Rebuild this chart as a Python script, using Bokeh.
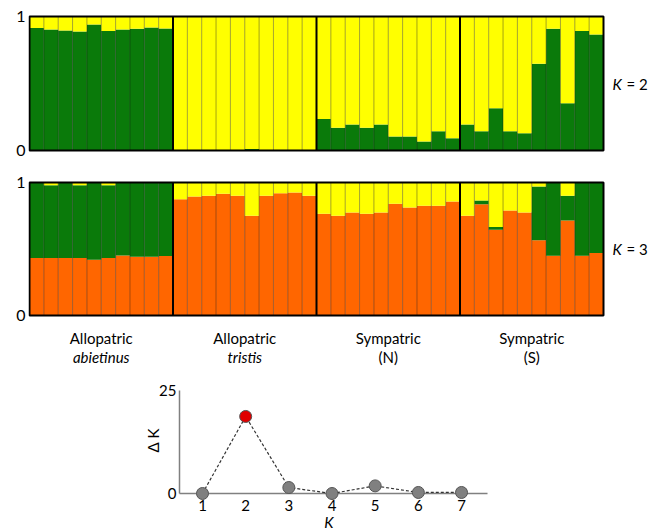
from bokeh.plotting import figure
from bokeh.layouts import column
from bokeh.models import ColumnDataSource, FixedTicker, Range1d
from bokeh.core.properties import value
from bokeh.embed import file_html
from bokeh.resources import INLINE

# ---------------- data ----------------
group_names = ["Allopatric", "Allopatric", "Sympatric", "Sympatric"]
group_subs = ["abietinus", "tristis", "(N)", "(S)"]
group_sub_italic = [True, True, False, False]
n_per_group = 10
ytick_values = [0, 1]

# K = 2 : proportion of the green cluster (yellow is the remainder)
k2_green = [0.915, 0.903, 0.896, 0.888, 0.940, 0.891, 0.903, 0.908, 0.918, 0.910,
            0.0, 0.0, 0.0, 0.0, 0.0, 0.012, 0.0, 0.0, 0.0, 0.0,
            0.236, 0.169, 0.194, 0.169, 0.194, 0.104, 0.104, 0.067, 0.144, 0.092,
            0.194, 0.144, 0.316, 0.144, 0.129, 0.647, 0.908, 0.353, 0.891, 0.866]

# K = 3 : orange and green clusters (yellow is the remainder)
k3_orange = [0.432, 0.432, 0.432, 0.432, 0.420, 0.432, 0.452, 0.442, 0.442, 0.447,
             0.875, 0.895, 0.900, 0.915, 0.900, 0.750, 0.900, 0.920, 0.925, 0.900,
             0.765, 0.750, 0.775, 0.765, 0.775, 0.840, 0.812, 0.825, 0.825, 0.857,
             0.750, 0.837, 0.645, 0.790, 0.775, 0.565, 0.450, 0.715, 0.450, 0.470]
k3_green = [0.568, 0.548, 0.568, 0.548, 0.580, 0.548, 0.548, 0.558, 0.558, 0.553,
            0.0, 0.0, 0.0, 0.0, 0.0, 0.0, 0.0, 0.0, 0.0, 0.0,
            0.0, 0.0, 0.0, 0.0, 0.0, 0.0, 0.0, 0.0, 0.0, 0.0,
            0.0, 0.028, 0.020, 0.0, 0.0, 0.405, 0.550, 0.185, 0.550, 0.530]

k_values = [1, 2, 3, 4, 5, 6, 7]
delta_k = [0.0, 18.7, 1.45, 0.0, 1.85, 0.25, 0.25]
best_k = 2
dk_ticks = [0, 25]

# ---------------- styles / layout constants ----------------
GREEN = "#0a7a0a"
YELLOW = "#ffff00"
ORANGE = "#ff6600"
FONT = value("Lato")
FS = "15px"
W = 660
LEFT = 28            # canvas px left of frame
BAR_PX = 14.35       # px per individual
PAD_L = 1.0 / BAR_PX  # 1 px of data to keep border visible

n_total = len(k2_green)
xs = [i + 0.5 for i in range(n_total)]
k2_yellow = [1 - g for g in k2_green]
k3_yellow = [max(0.0, 1 - o - g) for o, g in zip(k3_orange, k3_green)]

x_end = (W - LEFT) / BAR_PX - PAD_L


def structure_panel(height, above_px, below_px, panel_px, stack_names, colors, data, klabel):
    ppu = panel_px  # px per unit of y
    yr = Range1d(-below_px / ppu, 1 + above_px / ppu)
    p = figure(width=W, height=height, x_range=Range1d(-PAD_L, x_end), y_range=yr,
               output_backend="svg", toolbar_location=None, min_border=0,
               min_border_left=LEFT)
    src = ColumnDataSource(dict(x=xs, **data))
    p.vbar_stack(stack_names, x="x", width=1.0, color=colors, source=src, line_width=0)
    sep_x = [i for i in range(1, n_total) if i % n_per_group != 0]
    p.segment(x0=sep_x, y0=[0] * len(sep_x), x1=sep_x, y1=[1] * len(sep_x),
              line_color="#111111", line_width=1, line_dash="1 1", line_alpha=0.75)
    grp_x = [i for i in range(n_per_group, n_total, n_per_group)]
    p.segment(x0=grp_x, y0=[0] * len(grp_x), x1=grp_x, y1=[1] * len(grp_x),
              line_color="black", line_width=2)
    p.quad(left=[0], right=[n_total], bottom=[0], top=[1], fill_color=None,
           line_color="black", line_width=2)
    p.xaxis.visible = False
    p.yaxis.ticker = FixedTicker(ticks=ytick_values)
    p.yaxis.axis_line_color = None
    p.yaxis.major_tick_line_color = None
    p.yaxis.minor_tick_line_color = None
    p.yaxis.major_tick_in = 0
    p.yaxis.major_tick_out = 0
    p.yaxis.major_label_standoff = 3
    p.yaxis.major_label_text_font = "Lato"
    p.yaxis.major_label_text_font_size = "16px"
    p.yaxis.major_label_text_color = "black"
    p.grid.visible = False
    p.outline_line_color = None
    kx = n_total + 9 / BAR_PX
    p.text(x=[kx], y=[0.5], text=["K"], text_font=FONT, text_font_size=FS,
           text_font_style="italic", text_baseline="middle")
    p.text(x=[kx + 14 / BAR_PX], y=[0.5], text=["= " + klabel], text_font=FONT,
           text_font_size=FS, text_baseline="middle")
    return p


p1 = structure_panel(168, 16, 18, 134, ["green", "yellow"], [GREEN, YELLOW],
                     dict(green=k2_green, yellow=k2_yellow), "2")
p2 = structure_panel(202, 14, 55, 133, ["orange", "green", "yellow"], [ORANGE, GREEN, YELLOW],
                     dict(orange=k3_orange, green=k3_green, yellow=k3_yellow), "3")

centers = [gi * n_per_group + n_per_group / 2 for gi in range(len(group_names))]
p2.text(x=centers, y=[-22 / 133] * len(centers), text=group_names, text_font=FONT,
        text_font_size=FS, text_align="center", text_baseline="middle")
for cx, sub, ital in zip(centers, group_subs, group_sub_italic):
    p2.text(x=[cx], y=[-41 / 133], text=[sub], text_font=FONT, text_font_size=FS,
            text_font_style="italic" if ital else "normal",
            text_align="center", text_baseline="middle")

# ---------------- Delta K ----------------
KX_PX = 43.17        # px per K unit
KY_PX = 4.12         # px per Delta K unit
TOP3 = 370           # canvas top of this panel on the page
k1_px = 202 - LEFT   # frame px of K = 1
y0_px = 493 - TOP3   # frame px (from top) of Delta K = 0
H3 = 160
xr3 = Range1d(1 - k1_px / KX_PX, 1 + (W - LEFT - k1_px) / KX_PX)
yr3 = Range1d(-(H3 - y0_px) / KY_PX, y0_px / KY_PX)
p3 = figure(width=W, height=H3, x_range=xr3, y_range=yr3,
            output_backend="svg", toolbar_location=None, min_border=0, min_border_left=LEFT)
p3.axis.visible = False
p3.grid.visible = False
p3.outline_line_color = None

ax_x0 = 1 - 23 / KX_PX       # y-axis position
ax_x1 = 7 + 26 / KX_PX       # end of x-axis
p3.segment(x0=[ax_x0, ax_x0], y0=[0, 0], x1=[ax_x0, ax_x1], y1=[dk_ticks[-1], 0],
           line_color="#808080", line_width=1.5)
p3.line(k_values, delta_k, line_color="#333333", line_width=1.2, line_dash="3 2")
pt_colors = ["#e00000" if k == best_k else "#808080" for k in k_values]
p3.scatter(k_values, delta_k, size=12, fill_color=pt_colors, line_color="#555555", line_width=1)
p3.text(x=k_values, y=[-12 / KY_PX] * len(k_values), text=[str(k) for k in k_values],
        text_font=FONT, text_font_size=FS, text_align="center", text_baseline="middle")
p3.text(x=[ax_x0 - 3 / KX_PX] * len(dk_ticks), y=dk_ticks, text=[str(t) for t in dk_ticks],
        text_font=FONT, text_font_size=FS, text_align="right", text_baseline="middle")
p3.text(x=[(k_values[0] + k_values[-1]) / 2 - 0.07], y=[-28 / KY_PX], text=["K"], text_font=FONT,
        text_font_size=FS, text_font_style="italic", text_align="center", text_baseline="middle")
p3.text(x=[ax_x0 - 27 / KX_PX], y=[53 / KY_PX], text=["Δ K"], text_font=FONT,
        text_font_size=FS, text_align="center", text_baseline="middle", angle=1.5708)

layout = column(p1, p2, p3, spacing=0)
open("out.html", "w").write(file_html(layout, INLINE))
